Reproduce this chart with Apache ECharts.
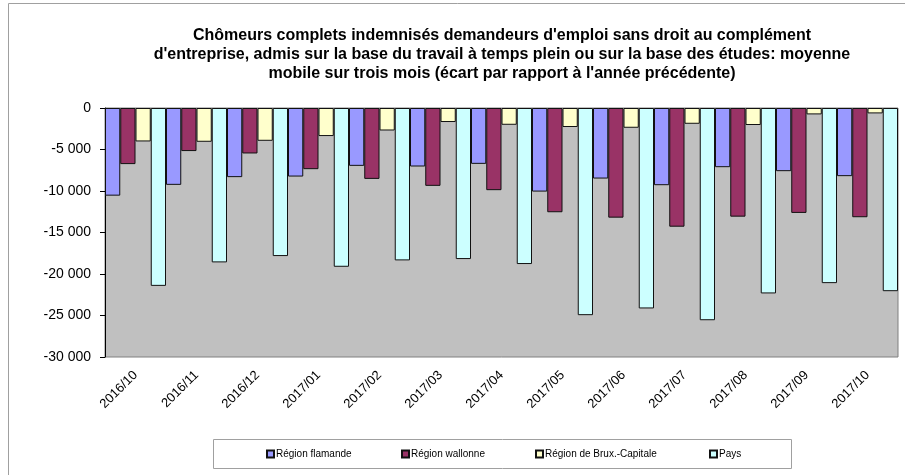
<!DOCTYPE html>
<html>
<head>
<meta charset="utf-8">
<script src="https://cdn.jsdelivr.net/npm/echarts@6/dist/echarts.min.js"></script>
<style>
  html, body { margin: 0; padding: 0; background: #fff; }
  #chart { width: 905px; height: 475px; }
</style>
</head>
<body>
<div id="chart"></div>
<script>
// données
const months = ['2016/10', '2016/11', '2016/12', '2017/01', '2017/02', '2017/03', '2017/04',
  '2017/05', '2017/06', '2017/07', '2017/08', '2017/09', '2017/10'];
const flamande = [-10560, -9260, -8330, -8260, -6970, -7050, -6730, -10070, -8500, -9300, -7130, -7610, -8210];
const wallonne = [-6760, -5190, -5480, -7370, -8540, -9380, -9900, -12560, -13210, -14300, -13090, -12640, -13160];
const bruxelles = [-4030, -4070, -3950, -3380, -2710, -1690, -2020, -2290, -2380, -1900, -2050, -770, -650];
const pays = [-21430, -18600, -17840, -19130, -18360, -18200, -18800, -24960, -24150, -25570, -22340, -21100, -22070];

const seriesNames = ['Région flamande', 'Région wallonne', 'Région de Brux.-Capitale', 'Pays'];
const seriesColors = ['#9999ff', '#993366', '#ffffcc', '#ccffff'];
const seriesData = [flamande, wallonne, bruxelles, pays];
const legendLeft = [266, 401, 535, 709];

const fmt = (v) => {
  const s = Math.abs(v).toString().replace(/\B(?=(\d{3})+(?!\d))/g, ' ');
  return (v < 0 ? '-' : '') + s;
};

const chart = echarts.init(document.getElementById('chart'));

chart.setOption({
  animation: false,
  textStyle: { fontFamily: 'Liberation Sans, Arial, sans-serif' },
  title: {
    text: "Chômeurs complets indemnisés demandeurs d'emploi sans droit au complément\n" +
      "d'entreprise, admis sur la base du travail à temps plein ou sur la base des études: moyenne\n" +
      "mobile sur trois mois (écart par rapport à l'année précédente)",
    left: 502,
    top: 26,
    textAlign: 'center',
    padding: 0,
    textStyle: { fontSize: 16, fontWeight: 'bold', color: '#000', lineHeight: 19 }
  },
  graphic: [
    { type: 'rect', z: -1, shape: { x: 8.5, y: 3.5, width: 1000, height: 1000 },
      style: { fill: 'none', stroke: '#a0a0a0', lineWidth: 1 } },
    { type: 'rect', z: -1, shape: { x: 213.5, y: 439.5, width: 578, height: 29 },
      style: { fill: '#fff', stroke: '#a0a0a0', lineWidth: 1 } }
  ],
  legend: seriesNames.map((n, i) => ({
    data: [n],
    left: legendLeft[i],
    top: 449,
    itemWidth: 7,
    itemHeight: 7,
    itemGap: 0,
    icon: 'rect',
    padding: 0,
    textStyle: { fontSize: 10, color: '#000', padding: [0, 0, 0, -3] }
  })),
  grid: {
    left: 105, right: 7, top: 108, bottom: 118,
    show: true, backgroundColor: '#c0c0c0', borderColor: '#808080', borderWidth: 1
  },
  xAxis: {
    type: 'category',
    data: months,
    position: 'bottom',
    axisLine: { show: false },
    axisTick: { show: false },
    axisLabel: { rotate: 45, fontSize: 13, color: '#000', margin: 16 }
  },
  yAxis: {
    type: 'value',
    min: -30000, max: 0, interval: 5000,
    axisLine: { show: true, lineStyle: { color: '#000' } },
    axisTick: { show: true, length: 5, lineStyle: { color: '#000' } },
    splitLine: { show: false },
    axisLabel: { fontSize: 14, color: '#000', margin: 14, formatter: fmt }
  },
  series: seriesNames.map((n, i) => ({
    name: n,
    type: 'bar',
    data: seriesData[i],
    barGap: '0%',
    barCategoryGap: '0%',
    itemStyle: { color: seriesColors[i], borderColor: '#111', borderWidth: 1 }
  }))
});
</script>
</body>
</html>
